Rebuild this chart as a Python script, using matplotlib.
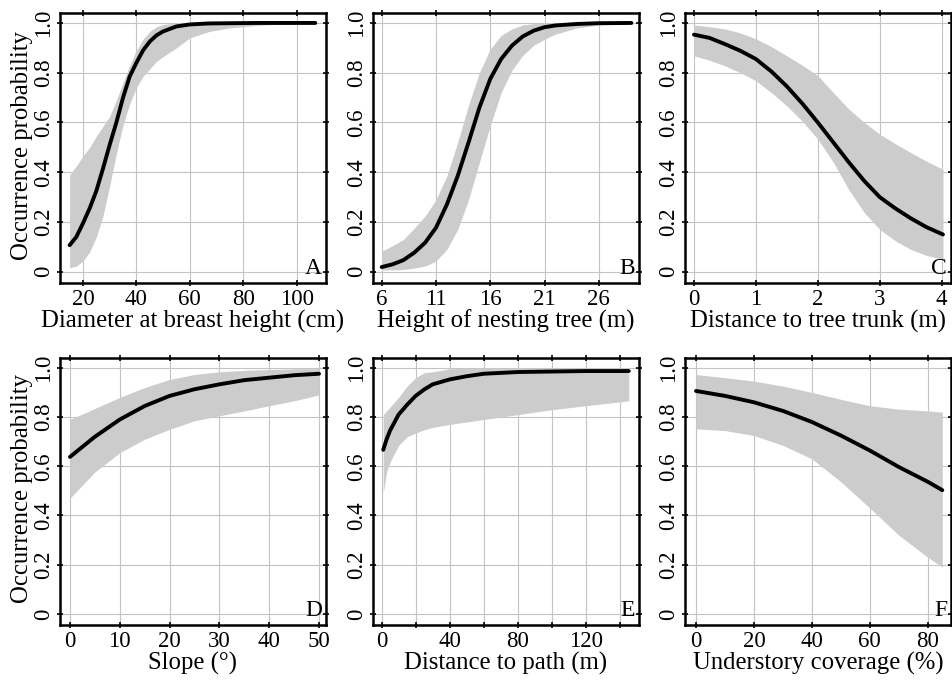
import numpy as np
import matplotlib
matplotlib.use("Agg")
import matplotlib.pyplot as plt

plt.rcParams['font.family'] = ['Liberation Serif', 'DejaVu Serif']

# values: x, mean, lower, upper
dbh_x = [15, 17.5, 20, 22.5, 25, 27.5, 30, 32.5, 35, 37.5, 40, 42.5, 45, 47.5, 50, 55, 60, 67, 75, 85, 95, 107]
dbh_mean = [0.107, 0.14, 0.195, 0.255, 0.325, 0.415, 0.51, 0.60, 0.70, 0.785, 0.84, 0.89, 0.925, 0.95, 0.966, 0.986, 0.994, 0.998, 0.999, 1.0, 1.0, 1.0]
dbh_lo = [0.016, 0.023, 0.043, 0.08, 0.14, 0.225, 0.345, 0.475, 0.59, 0.675, 0.74, 0.785, 0.815, 0.845, 0.865, 0.90, 0.94, 0.965, 0.98, 0.99, 0.996, 0.999]
dbh_hi = [0.39, 0.425, 0.465, 0.50, 0.545, 0.585, 0.625, 0.69, 0.76, 0.83, 0.89, 0.935, 0.966, 0.985, 0.994, 0.999, 1.0, 1.0, 1.0, 1.0, 1.0, 1.0]

height_x = [6, 7, 8, 9, 10, 11, 12, 13, 14, 15, 16, 17, 18, 19, 20, 21, 22, 24, 26, 29]
height_mean = [0.019, 0.03, 0.047, 0.077, 0.117, 0.177, 0.27, 0.385, 0.52, 0.66, 0.775, 0.855, 0.909, 0.946, 0.969, 0.983, 0.99, 0.996, 0.999, 1.0]
height_lo = [0.007, 0.008, 0.009, 0.015, 0.023, 0.043, 0.09, 0.17, 0.29, 0.44, 0.587, 0.72, 0.81, 0.87, 0.91, 0.935, 0.955, 0.98, 0.992, 0.998]
height_hi = [0.083, 0.105, 0.13, 0.175, 0.224, 0.29, 0.385, 0.52, 0.67, 0.80, 0.895, 0.95, 0.976, 0.992, 0.997, 0.999, 1.0, 1.0, 1.0, 1.0]

trunk_x = [0, 0.25, 0.5, 0.75, 1, 1.25, 1.5, 1.75, 2, 2.25, 2.5, 2.75, 3, 3.25, 3.5, 3.75, 4.02]
trunk_mean = [0.953, 0.94, 0.915, 0.888, 0.855, 0.805, 0.745, 0.676, 0.60, 0.52, 0.44, 0.365, 0.30, 0.255, 0.215, 0.18, 0.15]
trunk_lo = [0.868, 0.85, 0.828, 0.80, 0.768, 0.72, 0.667, 0.605, 0.533, 0.44, 0.33, 0.238, 0.17, 0.125, 0.09, 0.066, 0.05]
trunk_hi = [0.992, 0.985, 0.976, 0.96, 0.936, 0.905, 0.868, 0.83, 0.788, 0.72, 0.654, 0.60, 0.553, 0.515, 0.479, 0.445, 0.412]

slope_x = [0, 5, 10, 15, 20, 25, 30, 35, 40, 45, 50]
slope_mean = [0.638, 0.72, 0.79, 0.845, 0.886, 0.913, 0.933, 0.95, 0.96, 0.97, 0.976]
slope_lo = [0.47, 0.577, 0.655, 0.71, 0.75, 0.785, 0.805, 0.825, 0.846, 0.866, 0.89]
slope_hi = [0.79, 0.835, 0.88, 0.92, 0.953, 0.973, 0.984, 0.99, 0.993, 0.996, 0.997]

path_x = [1, 3, 5, 10, 15, 20, 25, 30, 40, 50, 60, 80, 100, 120, 145]
path_mean = [0.667, 0.71, 0.745, 0.81, 0.85, 0.886, 0.912, 0.933, 0.953, 0.966, 0.976, 0.983, 0.985, 0.987, 0.987]
path_lo = [0.49, 0.577, 0.617, 0.685, 0.72, 0.735, 0.748, 0.758, 0.77, 0.78, 0.79, 0.81, 0.83, 0.846, 0.866]
path_hi = [0.81, 0.825, 0.84, 0.88, 0.926, 0.96, 0.98, 0.984, 0.996, 0.998, 0.999, 0.999, 0.999, 0.999, 0.999]

cover_x = [0, 10, 20, 30, 40, 50, 60, 70, 80, 85]
cover_mean = [0.906, 0.886, 0.86, 0.825, 0.78, 0.725, 0.664, 0.597, 0.537, 0.503]
cover_lo = [0.752, 0.745, 0.725, 0.685, 0.63, 0.537, 0.43, 0.32, 0.23, 0.19]
cover_hi = [0.973, 0.96, 0.946, 0.926, 0.90, 0.872, 0.846, 0.832, 0.825, 0.82]

panels = [
    ("A", "Diameter at breast height (cm)", dbh_x, dbh_mean, dbh_lo, dbh_hi,
     (11.4, 111), [20, 40, 60, 80, 100], ["20", "40", "60", "80", "100"]),
    ("B", "Height of nesting tree (m)", height_x, height_mean, height_lo, height_hi,
     (5.2, 29.7), [6, 11, 16, 21, 26], ["6", "11", "16", "21", "26"]),
    ("C", "Distance to tree trunk (m)", trunk_x, trunk_mean, trunk_lo, trunk_hi,
     (-0.145, 4.15), [0, 1, 2, 3, 4], ["0", "1", "2", "3", "4"]),
    ("D", "Slope (°)", slope_x, slope_mean, slope_lo, slope_hi,
     (-2, 51.4), [0, 10, 20, 30, 40, 50], ["0", "10", "20", "30", "40", "50"]),
    ("E", "Distance to path (m)", path_x, path_mean, path_lo, path_hi,
     (-5, 151), [0, 20, 40, 60, 80, 100, 120, 140], ["0", "", "40", "", "80", "", "120", ""]),
    ("F", "Understory coverage (%)", cover_x, cover_mean, cover_lo, cover_hi,
     (-3.8, 88), [0, 20, 40, 60, 80], ["0", "20", "40", "60", "80"]),
]

W, H = 953, 685
lefts = [60, 373, 685]
rows = [(13, 283), (358, 625)]

fig = plt.figure(figsize=(W / 100, H / 100), dpi=100)

for i, (letter, xlabel, x, m, lo, hi, xlim, xt, xtl) in enumerate(panels):
    r, c = divmod(i, 3)
    top, bot = rows[r]
    ax = fig.add_axes([lefts[c] / W, (H - bot) / H, 266 / W, (bot - top) / H])
    ax.fill_between(x, lo, hi, color="#cccccc", linewidth=0, zorder=1)
    ax.plot(x, m, color="black", linewidth=2.8, solid_capstyle="round", zorder=3)
    ax.set_xlim(*xlim)
    ax.set_ylim(-0.045, 1.04)
    ax.set_xticks(xt)
    ax.set_xticklabels(xtl)
    ax.set_yticks([0, 0.2, 0.4, 0.6, 0.8, 1.0])
    ax.set_yticklabels(["0", "0.2", "0.4", "0.6", "0.8", "1.0"], rotation=90, va="center")
    ax.grid(True, color="#c4c4c4", linewidth=0.8, zorder=0)
    ax.set_axisbelow(True)
    ax.tick_params(direction="inout", length=5, width=1.2, top=True, right=True,
                   labelsize=16.5, pad=2)
    for sp in ax.spines.values():
        sp.set_linewidth(1.8)
    ax.set_xlabel(xlabel, fontsize=17.8, labelpad=-0.5)
    if c == 0:
        ax.set_ylabel("Occurrence probability", fontsize=17.8)
        ax.yaxis.set_label_coords(-0.103, 0.51)
    ax.text(0.985, 0.015, letter, transform=ax.transAxes, ha="right", va="bottom",
            fontsize=17, zorder=4)

fig.savefig("out.png", dpi=100)
